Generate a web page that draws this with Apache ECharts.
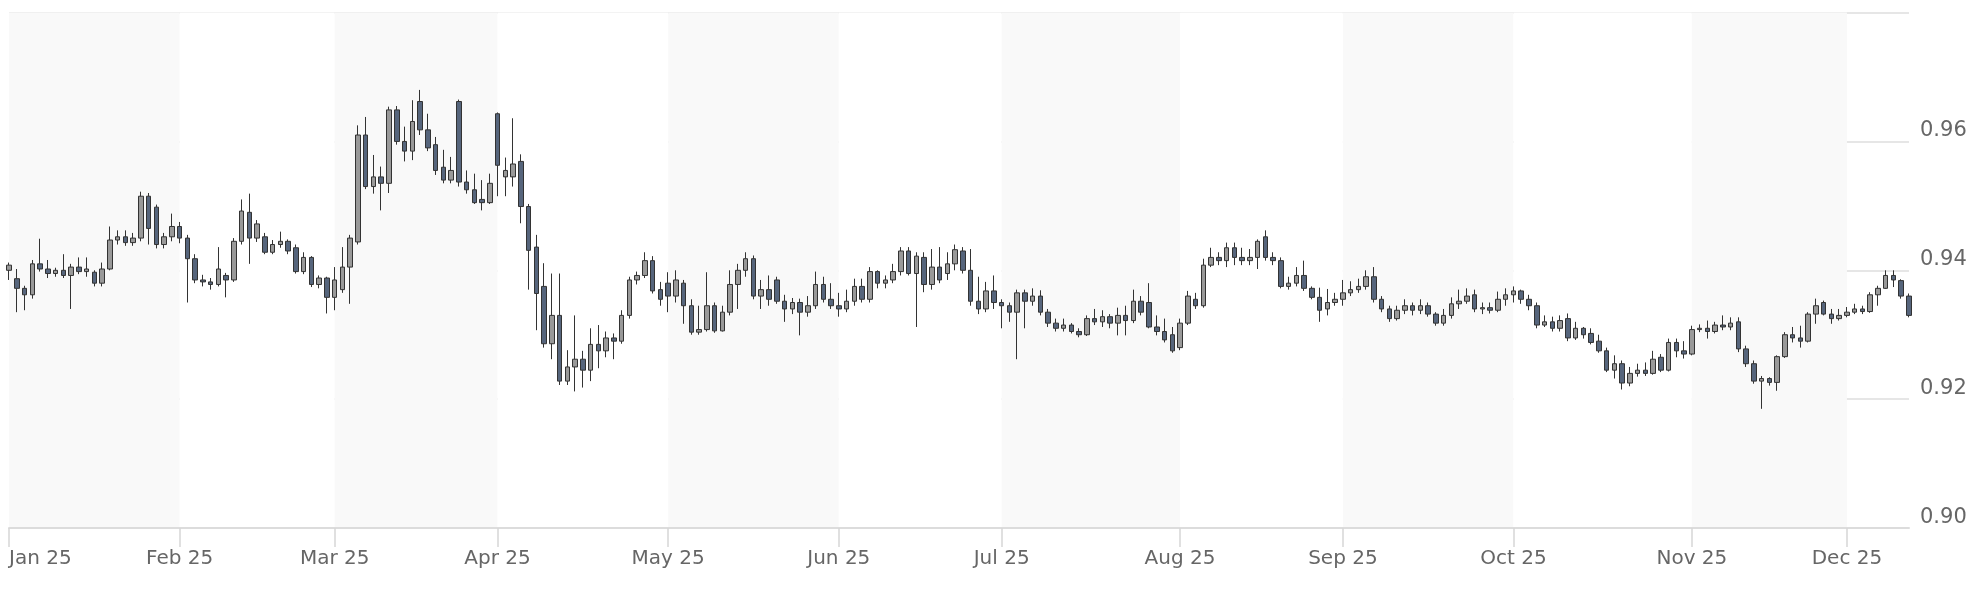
<!DOCTYPE html>
<html>
<head>
<meta charset="utf-8">
<script src="https://cdn.jsdelivr.net/npm/echarts/dist/echarts.min.js"></script>
<style>
  html, body { margin: 0; padding: 0; background: #fff; }
  #chart { width: 1980px; height: 593px; }
</style>
</head>
<body>
<div id="chart"></div>
<script>
// trading days shown on the axis (weekdays only)
const firstDay = '2025-01-02';
const lastDay = '2025-12-11';
const monthNames = ['Jan', 'Feb', 'Mar', 'Apr', 'May', 'Jun', 'Jul', 'Aug', 'Sep', 'Oct', 'Nov', 'Dec'];
const yTicks = [0.90, 0.92, 0.94, 0.96, 0.98];

// [open, close, low, high] per trading day
const candles = [
  // Jan
  [0.9400,0.9408,0.9385,0.9412],[0.9387,0.9372,0.9335,0.9402],[0.9372,0.9362,0.9338,0.9376],
  [0.9362,0.9410,0.9356,0.9416],[0.9410,0.9402,0.9398,0.9449],[0.9402,0.9395,0.9388,0.9416],
  [0.9395,0.9400,0.9390,0.9404],[0.9400,0.9392,0.9388,0.9425],[0.9392,0.9405,0.9340,0.9410],
  [0.9405,0.9398,0.9394,0.9420],[0.9398,0.9402,0.9390,0.9420],[0.9397,0.9380,0.9375,0.9400],
  [0.9380,0.9402,0.9375,0.9412],[0.9402,0.9447,0.9400,0.9468],[0.9447,0.9452,0.9440,0.9462],
  [0.9452,0.9443,0.9438,0.9462],[0.9443,0.9450,0.9438,0.9458],[0.9450,0.9515,0.9445,0.9522],
  [0.9515,0.9465,0.9440,0.9520],[0.9498,0.9440,0.9434,0.9502],[0.9440,0.9452,0.9434,0.9458],
  [0.9452,0.9468,0.9445,0.9488],
  // Feb
  [0.9468,0.9450,0.9442,0.9475],[0.9450,0.9418,0.9350,0.9455],[0.9418,0.9385,0.9380,0.9425],
  [0.9385,0.9382,0.9375,0.9393],[0.9382,0.9378,0.9370,0.9388],[0.9378,0.9402,0.9375,0.9436],
  [0.9392,0.9385,0.9358,0.9396],[0.9385,0.9445,0.9382,0.9450],[0.9445,0.9492,0.9440,0.9510],
  [0.9490,0.9450,0.9410,0.9519],[0.9450,0.9472,0.9444,0.9478],[0.9452,0.9428,0.9425,0.9458],
  [0.9428,0.9440,0.9425,0.9447],[0.9440,0.9445,0.9435,0.9460],[0.9445,0.9430,0.9425,0.9448],
  [0.9435,0.9398,0.9395,0.9440],[0.9398,0.9420,0.9394,0.9428],[0.9420,0.9378,0.9374,0.9422],
  [0.9378,0.9388,0.9372,0.9392],[0.9388,0.9358,0.9333,0.9390],
  // Mar
  [0.9358,0.9385,0.9338,0.9405],[0.9370,0.9405,0.9365,0.9436],[0.9405,0.9450,0.9348,0.9455],
  [0.9444,0.9610,0.9440,0.9625],[0.9610,0.9530,0.9526,0.9638],[0.9530,0.9545,0.9519,0.9579],
  [0.9545,0.9535,0.9493,0.9561],[0.9535,0.9649,0.9520,0.9654],[0.9649,0.9600,0.9595,0.9655],
  [0.9600,0.9585,0.9569,0.9623],[0.9585,0.9631,0.9571,0.9664],[0.9662,0.9618,0.9610,0.9680],
  [0.9618,0.9590,0.9585,0.9643],[0.9595,0.9555,0.9548,0.9607],[0.9560,0.9540,0.9535,0.9587],
  [0.9540,0.9555,0.9535,0.9576],[0.9662,0.9537,0.9530,0.9665],[0.9537,0.9525,0.9519,0.9555],
  [0.9525,0.9505,0.9503,0.9550],[0.9510,0.9505,0.9493,0.9540],[0.9505,0.9535,0.9503,0.9550],
  // Apr
  [0.9643,0.9563,0.9515,0.9645],[0.9545,0.9555,0.9515,0.9575],[0.9545,0.9565,0.9530,0.9636],
  [0.9569,0.9499,0.9473,0.9580],[0.9499,0.9431,0.9370,0.9503],[0.9436,0.9364,0.9307,0.9455],
  [0.9375,0.9286,0.9280,0.9411],[0.9286,0.9330,0.9262,0.9395],[0.9330,0.9228,0.9222,0.9395],
  [0.9228,0.9250,0.9222,0.9276],[0.9250,0.9262,0.9212,0.9330],[0.9262,0.9245,0.9218,0.9275],
  [0.9245,0.9285,0.9228,0.9310],[0.9285,0.9275,0.9248,0.9315],[0.9275,0.9295,0.9265,0.9305],
  [0.9295,0.9290,0.9262,0.9302],[0.9290,0.9330,0.9286,0.9338],[0.9330,0.9385,0.9325,0.9390],
  [0.9385,0.9392,0.9378,0.9398],[0.9392,0.9415,0.9388,0.9428],[0.9415,0.9368,0.9364,0.9422],
  [0.9370,0.9355,0.9345,0.9382],
  // May
  [0.9380,0.9360,0.9335,0.9397],[0.9360,0.9385,0.9350,0.9400],[0.9380,0.9345,0.9317,0.9385],
  [0.9345,0.9304,0.9300,0.9355],[0.9304,0.9308,0.9300,0.9345],[0.9308,0.9345,0.9305,0.9397],
  [0.9345,0.9306,0.9303,0.9350],[0.9306,0.9335,0.9305,0.9345],[0.9335,0.9378,0.9330,0.9400],
  [0.9378,0.9400,0.9340,0.9410],[0.9400,0.9418,0.9390,0.9428],[0.9418,0.9360,0.9355,0.9423],
  [0.9360,0.9370,0.9340,0.9385],[0.9370,0.9355,0.9345,0.9392],[0.9385,0.9352,0.9348,0.9390],
  [0.9352,0.9340,0.9320,0.9362],[0.9340,0.9350,0.9332,0.9357],[0.9350,0.9335,0.9299,0.9356],
  [0.9335,0.9345,0.9328,0.9360],[0.9345,0.9378,0.9340,0.9398],[0.9378,0.9355,0.9350,0.9390],
  [0.9355,0.9345,0.9340,0.9380],
  // Jun
  [0.9345,0.9340,0.9328,0.9365],[0.9340,0.9352,0.9335,0.9370],[0.9352,0.9375,0.9345,0.9387],
  [0.9375,0.9355,0.9350,0.9387],[0.9355,0.9398,0.9350,0.9405],[0.9398,0.9380,0.9372,0.9400],
  [0.9380,0.9385,0.9372,0.9392],[0.9385,0.9398,0.9380,0.9410],[0.9398,0.9430,0.9392,0.9436],
  [0.9430,0.9395,0.9392,0.9436],[0.9395,0.9422,0.9312,0.9428],[0.9420,0.9378,0.9366,0.9428],
  [0.9378,0.9405,0.9370,0.9433],[0.9405,0.9385,0.9380,0.9436],[0.9395,0.9410,0.9385,0.9428],
  [0.9410,0.9432,0.9400,0.9440],[0.9430,0.9400,0.9395,0.9436],[0.9400,0.9352,0.9345,0.9433],
  [0.9352,0.9340,0.9332,0.9390],[0.9340,0.9368,0.9335,0.9382],[0.9368,0.9350,0.9340,0.9392],
  // Jul
  [0.9350,0.9345,0.9310,0.9355],[0.9345,0.9335,0.9320,0.9350],[0.9335,0.9365,0.9262,0.9370],
  [0.9365,0.9352,0.9310,0.9370],[0.9352,0.9360,0.9345,0.9372],[0.9360,0.9335,0.9330,0.9369],
  [0.9335,0.9318,0.9312,0.9340],[0.9318,0.9310,0.9305,0.9325],[0.9310,0.9315,0.9305,0.9325],
  [0.9315,0.9305,0.9302,0.9318],[0.9305,0.9300,0.9296,0.9310],[0.9300,0.9325,0.9298,0.9330],
  [0.9325,0.9320,0.9315,0.9340],[0.9320,0.9328,0.9312,0.9338],[0.9328,0.9318,0.9310,0.9332],
  [0.9318,0.9330,0.9299,0.9342],[0.9330,0.9322,0.9299,0.9345],[0.9322,0.9352,0.9318,0.9370],
  [0.9352,0.9335,0.9330,0.9360],[0.9350,0.9312,0.9310,0.9380],[0.9312,0.9305,0.9299,0.9330],
  [0.9305,0.9292,0.9288,0.9325],[0.9300,0.9275,0.9272,0.9312],
  // Aug
  [0.9280,0.9318,0.9276,0.9325],[0.9318,0.9360,0.9315,0.9368],[0.9355,0.9345,0.9340,0.9365],
  [0.9345,0.9408,0.9342,0.9418],[0.9408,0.9420,0.9405,0.9435],[0.9420,0.9415,0.9408,0.9428],
  [0.9415,0.9435,0.9405,0.9443],[0.9435,0.9420,0.9408,0.9443],[0.9420,0.9415,0.9408,0.9435],
  [0.9415,0.9420,0.9408,0.9433],[0.9420,0.9445,0.9402,0.9448],[0.9452,0.9420,0.9415,0.9462],
  [0.9420,0.9415,0.9408,0.9428],[0.9415,0.9375,0.9372,0.9420],[0.9375,0.9380,0.9370,0.9390],
  [0.9380,0.9392,0.9375,0.9405],[0.9392,0.9372,0.9368,0.9415],[0.9372,0.9358,0.9355,0.9375],
  [0.9358,0.9338,0.9320,0.9373],[0.9340,0.9350,0.9330,0.9371],[0.9350,0.9355,0.9345,0.9365],
  // Sep
  [0.9355,0.9365,0.9345,0.9385],[0.9365,0.9370,0.9360,0.9383],[0.9370,0.9375,0.9365,0.9387],
  [0.9375,0.9390,0.9370,0.9400],[0.9390,0.9355,0.9350,0.9405],[0.9355,0.9340,0.9335,0.9360],
  [0.9340,0.9325,0.9320,0.9345],[0.9325,0.9338,0.9322,0.9345],[0.9338,0.9345,0.9332,0.9355],
  [0.9345,0.9338,0.9330,0.9350],[0.9338,0.9345,0.9332,0.9355],[0.9345,0.9332,0.9328,0.9350],
  [0.9332,0.9318,0.9314,0.9335],[0.9318,0.9330,0.9314,0.9340],[0.9330,0.9348,0.9325,0.9358],
  [0.9348,0.9352,0.9340,0.9370],[0.9352,0.9360,0.9348,0.9372],[0.9362,0.9340,0.9335,0.9370],
  [0.9340,0.9342,0.9332,0.9350],[0.9342,0.9338,0.9333,0.9350],[0.9338,0.9355,0.9335,0.9367],
  [0.9355,0.9362,0.9345,0.9372],
  // Oct
  [0.9362,0.9368,0.9350,0.9375],[0.9368,0.9355,0.9348,0.9370],[0.9355,0.9345,0.9338,0.9362],
  [0.9345,0.9315,0.9310,0.9350],[0.9315,0.9320,0.9312,0.9330],[0.9320,0.9310,0.9305,0.9328],
  [0.9310,0.9322,0.9305,0.9330],[0.9325,0.9295,0.9290,0.9333],[0.9295,0.9310,0.9292,0.9320],
  [0.9310,0.9300,0.9294,0.9312],[0.9302,0.9288,0.9285,0.9310],[0.9290,0.9275,0.9272,0.9300],
  [0.9275,0.9245,0.9242,0.9280],[0.9245,0.9255,0.9232,0.9268],[0.9255,0.9225,0.9215,0.9260],
  [0.9225,0.9240,0.9220,0.9250],[0.9240,0.9245,0.9235,0.9255],[0.9245,0.9240,0.9236,0.9257],
  [0.9240,0.9262,0.9238,0.9275],[0.9265,0.9245,0.9242,0.9270],[0.9245,0.9288,0.9243,0.9294],
  [0.9288,0.9275,0.9265,0.9294],[0.9275,0.9270,0.9263,0.9290],
  // Nov
  [0.9270,0.9308,0.9268,0.9314],[0.9308,0.9310,0.9304,0.9316],[0.9310,0.9305,0.9294,0.9322],
  [0.9305,0.9315,0.9302,0.9320],[0.9315,0.9312,0.9307,0.9330],[0.9312,0.9318,0.9307,0.9327],
  [0.9320,0.9278,0.9273,0.9327],[0.9278,0.9255,0.9250,0.9283],[0.9255,0.9228,0.9224,0.9260],
  [0.9228,0.9232,0.9185,0.9236],[0.9232,0.9226,0.9221,0.9234],[0.9226,0.9266,0.9213,0.9268],
  [0.9266,0.9300,0.9264,0.9304],[0.9300,0.9295,0.9288,0.9312],[0.9295,0.9290,0.9280,0.9314],
  [0.9290,0.9332,0.9288,0.9335],[0.9332,0.9345,0.9317,0.9356],[0.9350,0.9332,0.9330,0.9353],
  [0.9332,0.9325,0.9317,0.9340],[0.9325,0.9330,0.9322,0.9340],
  // Dec
  [0.9330,0.9335,0.9327,0.9343],[0.9335,0.9340,0.9332,0.9348],[0.9340,0.9336,0.9332,0.9345],
  [0.9336,0.9362,0.9334,0.9366],[0.9362,0.9372,0.9345,0.9376],[0.9372,0.9392,0.9371,0.9400],
  [0.9392,0.9385,0.9374,0.9400],[0.9384,0.9360,0.9356,0.9386],[0.9360,0.9330,0.9327,0.9364]
];

function weekdays(from, to) {
  const out = [];
  const d = new Date(from + 'T00:00:00Z');
  const end = new Date(to + 'T00:00:00Z');
  while (d <= end) {
    const wd = d.getUTCDay();
    if (wd !== 0 && wd !== 6) out.push(d.toISOString().slice(0, 10));
    d.setUTCDate(d.getUTCDate() + 1);
  }
  return out;
}

const dates = weekdays(firstDay, lastDay);
// first trading day of each month gets a tick
const isMonthStart = (i) => i === 0 || dates[i].slice(5, 7) !== dates[i - 1].slice(5, 7);
const monthLabel = (d) => monthNames[+d.slice(5, 7) - 1] + ' ' + d.slice(2, 4);

const chart = echarts.init(document.getElementById('chart'));
chart.setOption({
  animation: false,
  backgroundColor: '#ffffff',
  grid: { left: 9, right: 71, top: 12.6, bottom: 65 },
  xAxis: {
    type: 'category',
    data: dates,
    boundaryGap: false,
    axisLine: { lineStyle: { color: '#dcdcdc', width: 2 } },
    axisTick: {
      interval: (i) => isMonthStart(i),
      length: 19,
      lineStyle: { color: '#d6d6d6', width: 1.5 }
    },
    axisLabel: {
      interval: (i) => isMonthStart(i),
      formatter: (v) => monthLabel(v),
      color: '#666',
      fontFamily: 'DejaVu Sans',
      fontSize: 20,
      margin: 21,
      hideOverlap: false,
      alignMinLabel: 'left'
    },
    splitLine: { show: false },
    splitArea: {
      show: true,
      interval: (i) => isMonthStart(i),
      areaStyle: { color: ['#f9f9f9', '#ffffff'] }
    }
  },
  yAxis: {
    type: 'value',
    position: 'right',
    min: yTicks[0],
    max: yTicks[yTicks.length - 1],
    interval: 0.02,
    axisLine: { show: false },
    axisTick: { show: false },
    axisLabel: {
      formatter: (v) => (v > 0.975 ? '' : v.toFixed(2)),
      color: '#666',
      fontFamily: 'DejaVu Sans',
      fontSize: 21,
      margin: 11,
      verticalAlign: 'bottom',
      padding: [0, 0, 0, 0]
    },
    splitLine: { lineStyle: { color: '#e6e6e6', width: 2 } }
  },
  series: [{
    type: 'candlestick',
    data: candles,
    barWidth: 5,
    itemStyle: {
      color: '#999999',
      color0: '#56657c',
      borderColor: '#333333',
      borderColor0: '#333333',
      borderWidth: 1
    }
  }]
});
</script>
</body>
</html>
